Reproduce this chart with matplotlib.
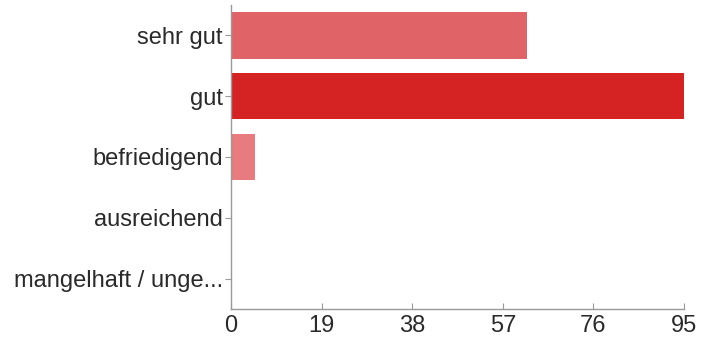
import matplotlib
matplotlib.use("Agg")
import matplotlib.pyplot as plt

categories = ["sehr gut", "gut", "befriedigend", "ausreichend", "mangelhaft / unge..."]
values = [62, 95, 5, 0, 0]
colors = ["#e06367", "#d52324", "#e77b80", "#e77b80", "#e77b80"]
xticks = [0, 19, 38, 57, 76, 95]

plt.rcParams['font.family'] = ['Liberation Sans', 'DejaVu Sans']
fig = plt.figure(figsize=(7.01, 3.47), dpi=100)
ax = fig.add_axes([231/701, 1 - 309/347, (684 - 231)/701, (309 - 5)/347])

y = list(range(len(categories)))
ax.barh(y, values, height=0.76, color=colors)
ax.set_ylim(len(categories) - 0.5, -0.5)
ax.set_xlim(0, 95)
ax.set_xticks(xticks)
ax.set_xticklabels([str(t) for t in xticks])
ax.set_yticks(y)
ax.set_yticklabels(categories)
for s in ["top", "right"]:
    ax.spines[s].set_visible(False)
for s in ["left", "bottom"]:
    ax.spines[s].set_color("#999999")
    ax.spines[s].set_linewidth(1)
ax.tick_params(axis="y", length=4, color="#999999", labelsize=17, labelcolor="#2a2a2a", pad=2)
ax.tick_params(axis="x", direction="in", length=4, color="#999999", labelsize=17, labelcolor="#2a2a2a", pad=4)
fig.savefig("out.png", dpi=100)
